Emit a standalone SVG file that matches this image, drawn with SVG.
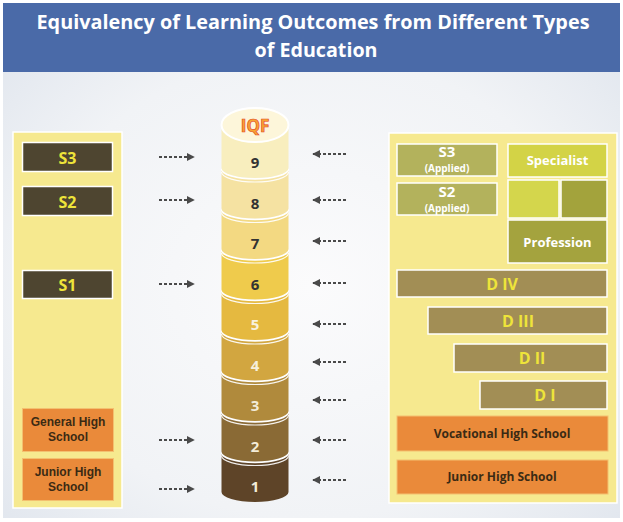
<svg xmlns="http://www.w3.org/2000/svg" width="623" height="522" viewBox="0 0 623 522">
  <defs>
    <radialGradient id="bg" cx="0.5" cy="0.55" r="0.75">
      <stop offset="0" stop-color="#fbfbfc"/>
      <stop offset="0.6" stop-color="#f1f3f6"/>
      <stop offset="1" stop-color="#dde3ec"/>
    </radialGradient>
    <marker id="headR" viewBox="0 0 10 10" refX="9" refY="5" markerWidth="4" markerHeight="4" orient="auto">
      <path d="M0,0 L10,5 L0,10 Z" fill="#4a4a4a"/>
    </marker>
  </defs>
  <style>
    .panel { fill: #f6e98f; stroke: #ffffff; stroke-width: 1.5; }
    .sbox { fill: #4e4530; stroke: #ffffff; stroke-width: 1.5; }
    .obox { fill: #ea8a3a; stroke: #f3c070; stroke-width: 1; }
    .abox { fill: #b3b25c; stroke: #ffffff; stroke-width: 1.5; }
    .dbox { fill: #a28e55; stroke: #ffffff; stroke-width: 1.5; }
    .yt { font-family: "Open Sans", "Liberation Sans", sans-serif; font-weight: bold; fill: #eee43a; text-anchor: middle; }
    .dt { font-family: "Open Sans", "Liberation Sans", sans-serif; font-weight: bold; fill: #3b2a14; font-size: 12px; text-anchor: middle; }
    .dt2 { font-family: "Liberation Sans", Arial, sans-serif; font-weight: bold; fill: #3b2a14; font-size: 12px; text-anchor: middle; }
    .wt { font-family: "Open Sans", "Liberation Sans", sans-serif; font-weight: bold; fill: #ffffff; text-anchor: middle; }
    .seg { stroke: none; }
    .edge { fill: none; stroke: #ffffff; stroke-width: 1.6; }
    .rim { fill: none; stroke: #ffffff; stroke-width: 1.2; opacity: 0.9; }
    .num { font-family: "Open Sans", "Liberation Sans", sans-serif; font-weight: bold; font-size: 15px; text-anchor: middle; }
    .arrow { fill: none; stroke: #4a4a4a; stroke-width: 2; stroke-dasharray: 3 2; marker-end: url(#headR); }
  </style>

  <!-- page background -->
  <rect x="0" y="0" width="623" height="522" fill="#ffffff"/>
  <rect x="3" y="3" width="617" height="515" fill="url(#bg)"/>

  <!-- title band -->
  <g id="title">
    <rect x="3" y="3" width="617" height="69" fill="#4a6aa8"/>
    <text x="313" y="29" class="wt" font-size="19" textLength="553" lengthAdjust="spacingAndGlyphs">Equivalency of Learning Outcomes from Different Types</text>
    <text x="316" y="57" class="wt" font-size="19" textLength="123" lengthAdjust="spacingAndGlyphs">of Education</text>
  </g>

  <!-- left column: academic track -->
  <g id="left-panel">
    <rect class="panel" x="13" y="132" width="109" height="376"/>
  </g>
  <g id="node-s3">
    <rect class="sbox" x="22.5" y="142.5" width="90" height="29"/>
    <text class="yt" x="67.5" y="163.5" font-size="16">S3</text>
  </g>
  <g id="node-s2">
    <rect class="sbox" x="22.5" y="186.5" width="90" height="29"/>
    <text class="yt" x="67.5" y="207.5" font-size="16">S2</text>
  </g>
  <g id="node-s1">
    <rect class="sbox" x="22.5" y="270.5" width="90" height="28"/>
    <text class="yt" x="67.5" y="290.5" font-size="16">S1</text>
  </g>
  <g id="node-general-high">
    <rect class="obox" x="22.5" y="408.5" width="91" height="43"/>
    <text class="dt2" x="68" y="426">General High</text>
    <text class="dt2" x="68" y="441">School</text>
  </g>
  <g id="node-junior-high-left">
    <rect class="obox" x="22.5" y="458.5" width="91" height="42"/>
    <text class="dt2" x="68" y="476">Junior High</text>
    <text class="dt2" x="68" y="491">School</text>
  </g>

  <!-- IQF level stack, drawn bottom-up so each upper disc overlaps the one below -->
  <g id="iqf-stack">
    <g id="level-1">
      <path class="seg" fill="#5e4428" d="M221.5,452.5 A33.5,10 0 0 0 288.5,452.5 L288.5,492 A33.5,10 0 0 1 221.5,492 Z"/>
      <path class="edge" d="M221.5,452.5 A33.5,10 0 0 0 288.5,452.5"/>
      <path class="rim" d="M221.5,455.5 A33.5,10 0 0 0 288.5,455.5"/>
      <text class="num" x="255" y="492" fill="#f3ecd8">1</text>
    </g>
    <g id="level-2">
      <path class="seg" fill="#8a6a35" d="M221.5,412 A33.5,10 0 0 0 288.5,412 L288.5,451.5 A33.5,10 0 0 1 221.5,451.5 Z"/>
      <path class="edge" d="M221.5,412 A33.5,10 0 0 0 288.5,412"/>
      <path class="rim" d="M221.5,415 A33.5,10 0 0 0 288.5,415"/>
      <text class="num" x="255" y="451.5" fill="#f3ecd8">2</text>
    </g>
    <g id="level-3">
      <path class="seg" fill="#b08a3c" d="M221.5,371.5 A33.5,10 0 0 0 288.5,371.5 L288.5,411 A33.5,10 0 0 1 221.5,411 Z"/>
      <path class="edge" d="M221.5,371.5 A33.5,10 0 0 0 288.5,371.5"/>
      <path class="rim" d="M221.5,374.5 A33.5,10 0 0 0 288.5,374.5"/>
      <text class="num" x="255" y="411" fill="#f3ecd8">3</text>
    </g>
    <g id="level-4">
      <path class="seg" fill="#d2a640" d="M221.5,331 A33.5,10 0 0 0 288.5,331 L288.5,370.5 A33.5,10 0 0 1 221.5,370.5 Z"/>
      <path class="edge" d="M221.5,331 A33.5,10 0 0 0 288.5,331"/>
      <path class="rim" d="M221.5,334 A33.5,10 0 0 0 288.5,334"/>
      <text class="num" x="255" y="370.5" fill="#f6f0dc">4</text>
    </g>
    <g id="level-5">
      <path class="seg" fill="#e5b940" d="M221.5,290.5 A33.5,10 0 0 0 288.5,290.5 L288.5,330 A33.5,10 0 0 1 221.5,330 Z"/>
      <path class="edge" d="M221.5,290.5 A33.5,10 0 0 0 288.5,290.5"/>
      <path class="rim" d="M221.5,293.5 A33.5,10 0 0 0 288.5,293.5"/>
      <text class="num" x="255" y="330" fill="#f8f2e0">5</text>
    </g>
    <g id="level-6">
      <path class="seg" fill="#efcb4c" d="M221.5,250 A33.5,10 0 0 0 288.5,250 L288.5,289.5 A33.5,10 0 0 1 221.5,289.5 Z"/>
      <path class="edge" d="M221.5,250 A33.5,10 0 0 0 288.5,250"/>
      <path class="rim" d="M221.5,253 A33.5,10 0 0 0 288.5,253"/>
      <text class="num" x="255" y="289.5" fill="#333333">6</text>
    </g>
    <g id="level-7">
      <path class="seg" fill="#f3d982" d="M221.5,209.5 A33.5,10 0 0 0 288.5,209.5 L288.5,249 A33.5,10 0 0 1 221.5,249 Z"/>
      <path class="edge" d="M221.5,209.5 A33.5,10 0 0 0 288.5,209.5"/>
      <path class="rim" d="M221.5,212.5 A33.5,10 0 0 0 288.5,212.5"/>
      <text class="num" x="255" y="249" fill="#333333">7</text>
    </g>
    <g id="level-8">
      <path class="seg" fill="#f5e2a2" d="M221.5,169 A33.5,10 0 0 0 288.5,169 L288.5,208.5 A33.5,10 0 0 1 221.5,208.5 Z"/>
      <path class="edge" d="M221.5,169 A33.5,10 0 0 0 288.5,169"/>
      <path class="rim" d="M221.5,172 A33.5,10 0 0 0 288.5,172"/>
      <text class="num" x="255" y="208.5" fill="#333333">8</text>
    </g>
    <g id="level-9">
      <path class="seg" fill="#f8eebe" d="M221.5,125 L288.5,125 L288.5,168 A33.5,10 0 0 1 221.5,168 Z"/>
      <text class="num" x="255" y="168" fill="#333333">9</text>
    </g>
    <g id="iqf-cap">
      <ellipse cx="255" cy="125" rx="33.5" ry="17" fill="#fdf6da" stroke="#ffffff" stroke-width="2"/>
      <text x="255" y="132" font-family="Open Sans, Liberation Sans, sans-serif" font-weight="bold" font-size="17" text-anchor="middle" fill="#f7a531" stroke="#e4462a" stroke-width="0.7">IQF</text>
    </g>
  </g>

  <!-- right column: vocational / professional track -->
  <g id="right-panel">
    <rect class="panel" x="389" y="133" width="228" height="370"/>
  </g>
  <g id="node-s3-applied">
    <rect class="abox" x="397" y="144" width="100" height="32"/>
    <text class="wt" x="447" y="157" font-size="15">S3</text>
    <text class="wt" x="447" y="172" font-size="10">(Applied)</text>
  </g>
  <g id="node-s2-applied">
    <rect class="abox" x="397" y="183" width="100" height="32"/>
    <text class="wt" x="447" y="197" font-size="15">S2</text>
    <text class="wt" x="447" y="212" font-size="10">(Applied)</text>
  </g>
  <g id="node-specialist">
    <rect x="508" y="144" width="99" height="33" fill="#d3d346" stroke="#ffffff" stroke-width="1.5"/>
    <text class="wt" x="557.5" y="165" font-size="13">Specialist</text>
  </g>
  <g id="node-mid-left">
    <rect x="508" y="180" width="51" height="38" fill="#d4d64c" stroke="#ffffff" stroke-width="1.5"/>
  </g>
  <g id="node-mid-right">
    <rect x="561" y="180" width="46" height="38" fill="#a3a33c" stroke="#ffffff" stroke-width="1.5"/>
  </g>
  <g id="node-profession">
    <rect x="508" y="220" width="99" height="43" fill="#a4a33e" stroke="#ffffff" stroke-width="1.5"/>
    <text class="wt" x="557.5" y="247" font-size="13">Profession</text>
  </g>
  <g id="node-d4">
    <rect class="dbox" x="397" y="270" width="210" height="27"/>
    <text class="yt" x="502" y="289.5" font-size="16">D IV</text>
  </g>
  <g id="node-d3">
    <rect class="dbox" x="428" y="307" width="179" height="27"/>
    <text class="yt" x="518" y="326.5" font-size="16">D III</text>
  </g>
  <g id="node-d2">
    <rect class="dbox" x="454" y="344" width="153" height="28"/>
    <text class="yt" x="532" y="363.5" font-size="16">D II</text>
  </g>
  <g id="node-d1">
    <rect class="dbox" x="480" y="381" width="127" height="28"/>
    <text class="yt" x="545" y="400.5" font-size="16">D I</text>
  </g>
  <g id="node-vocational-high">
    <rect class="obox" x="397" y="416" width="211" height="35"/>
    <text class="dt" x="502" y="437.5">Vocational High School</text>
  </g>
  <g id="node-junior-high-right">
    <rect class="obox" x="397" y="460" width="211" height="34"/>
    <text class="dt" x="502" y="480.5">Junior High School</text>
  </g>

  <!-- connectors -->
  <g id="connectors">
    <path class="arrow" d="M159,157 L194,157"/>
    <path class="arrow" d="M159,200 L194,200"/>
    <path class="arrow" d="M159,284 L194,284"/>
    <path class="arrow" d="M159,440 L194,440"/>
    <path class="arrow" d="M159,489 L194,489"/>

    <path class="arrow" d="M346,154 L313,154"/>
    <path class="arrow" d="M346,200 L313,200"/>
    <path class="arrow" d="M346,241 L313,241"/>
    <path class="arrow" d="M346,283 L313,283"/>
    <path class="arrow" d="M346,324 L313,324"/>
    <path class="arrow" d="M346,362 L313,362"/>
    <path class="arrow" d="M346,400 L313,400"/>
    <path class="arrow" d="M346,440 L313,440"/>
    <path class="arrow" d="M346,480 L313,480"/>
  </g>
</svg>
